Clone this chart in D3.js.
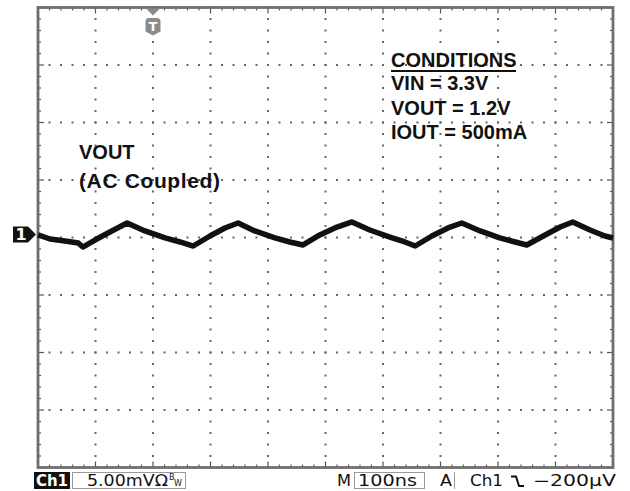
<!DOCTYPE html>
<html><head><meta charset="utf-8">
<script src="https://cdn.jsdelivr.net/npm/d3@7"></script>
<style>html,body{margin:0;padding:0;background:#fff;}svg{display:block;}</style>
</head><body>
<svg id="c" width="630" height="491"></svg>
<script>
// ---- data ----
const timeNs = [0,21,47,70,78,99,125,155,186,221,247,270,299,325,348,377,412,438,461,490,520,546,577,612,638,656,685,713,737,769,803,830,850,882,908,930,960,986,1000];
const rippleMv = [0.22,-0.13,-0.30,-0.48,-0.83,-0.22,0.48,1.26,0.57,-0.04,-0.39,-0.74,0.13,0.83,1.26,0.57,-0.04,-0.39,-0.65,0.22,0.91,1.35,0.65,0.04,-0.39,-0.74,0.13,0.83,1.26,0.57,-0.04,-0.39,-0.65,0.22,0.91,1.35,0.65,0.13,-0.04];
const conditionLines = ["VIN = 3.3V","VOUT = 1.2V","IOUT = 500mA"];
const traceLabel = ["VOUT","(AC Coupled)"];
const xDivs = 10, yDivs = 8;

// ---- layout ----
const L = 38, R = 613, T = 7.5, B = 467.5;
const svg = d3.select("#c");
const x = d3.scaleLinear().domain([0, 1000]).range([L, R]);
const y = d3.scaleLinear().domain([-20, 20]).range([B, T]);

const xMajor = d3.range(1, xDivs).map(i => i * 100);
const yMajor = d3.range(1, yDivs).map(i => -20 + i * 5);
const xMinor = d3.range(0, 1000.001, 20);
const yMinor = d3.range(-20, 20.001, 1);

const g = svg.append("g");
// dotted grid: dots at minor positions along major lines
xMajor.forEach(t => {
  yMinor.forEach(v => {
    g.append("rect").attr("x", x(t)-1).attr("y", y(v)-1).attr("width", 2).attr("height", 2).attr("fill", "#666");
  });
});
yMajor.forEach(v => {
  xMinor.forEach(t => {
    g.append("rect").attr("x", x(t)-1).attr("y", y(v)-1).attr("width", 2).attr("height", 2).attr("fill", "#666");
  });
});
// frame ticks
xMinor.forEach(t => {
  const maj = Math.abs(t/100 - Math.round(t/100)) < 1e-6;
  const len = maj ? 6 : 3;
  g.append("line").attr("x1", x(t)).attr("x2", x(t)).attr("y1", T).attr("y2", T+len).attr("stroke", "#555").attr("stroke-width", 1.2);
  g.append("line").attr("x1", x(t)).attr("x2", x(t)).attr("y1", B).attr("y2", B-len).attr("stroke", "#555").attr("stroke-width", 1.2);
});
yMinor.forEach(v => {
  const maj = Math.abs(v/5 - Math.round(v/5)) < 1e-6;
  const len = maj ? 6 : 3;
  g.append("line").attr("y1", y(v)).attr("y2", y(v)).attr("x1", L).attr("x2", L+len).attr("stroke", "#555").attr("stroke-width", 1.2);
  g.append("line").attr("y1", y(v)).attr("y2", y(v)).attr("x1", R).attr("x2", R-len).attr("stroke", "#555").attr("stroke-width", 1.2);
});
// frame
g.append("rect").attr("x", L).attr("y", T).attr("width", R-L).attr("height", B-T)
  .attr("fill", "none").attr("stroke", "#6e6e6e").attr("stroke-width", 2.8);

// trace
const line = d3.line().x((d,i) => x(timeNs[i])).y(d => y(d)).curve(d3.curveLinear);
svg.append("path").datum(rippleMv).attr("d", line)
  .attr("fill", "none").attr("stroke", "#111").attr("stroke-width", 5.5).attr("stroke-linejoin", "round");

// channel 1 marker
const my = y(rippleMv[0]) - 0.5;
svg.append("path").attr("d", `M13,${my-8}H28L36,${my}L28,${my+8}H13Z`).attr("fill", "#111");
svg.append("text").attr("x", 21).attr("y", my+6).attr("text-anchor", "middle")
  .attr("font-family", "DejaVu Sans").attr("font-weight", "bold").attr("font-size", 16).attr("fill", "#fff").text("1");

// trigger marker
const tx = x(200);
svg.append("path").attr("d", `M${tx-7},${T+1}H${tx+7}L${tx},${T+8}Z`).attr("fill", "#8a8a8a");
svg.append("path").attr("d", `M${tx-7.5},${T+14}Q${tx-7.5},${T+10.5} ${tx-4},${T+10.5}H${tx+4}Q${tx+7.5},${T+10.5} ${tx+7.5},${T+14}V${T+24}L${tx},${T+28}L${tx-7.5},${T+24}Z`).attr("fill", "#8a8a8a");
svg.append("text").attr("x", tx).attr("y", T+23.5).attr("text-anchor", "middle")
  .attr("font-family", "DejaVu Sans").attr("font-weight", "bold").attr("font-size", 13).attr("fill", "#fff").text("T");

// labels
const lab = svg.append("g").attr("font-family", "Liberation Sans, Arial, sans-serif").attr("font-weight", "bold").attr("font-size", 20).attr("fill", "#111");
lab.append("text").attr("x", 79).attr("y", 159).text(traceLabel[0]);
lab.append("text").attr("x", 79).attr("y", 188).attr("font-size", 21).attr("textLength", 141).attr("lengthAdjust", "spacing").text(traceLabel[1]);
lab.append("text").attr("x", 391).attr("y", 67).text("CONDITIONS");
lab.append("rect").attr("x", 391).attr("y", 70).attr("width", 125).attr("height", 2).attr("fill", "#111");
conditionLines.forEach((s, i) => lab.append("text").attr("x", 391).attr("y", 90 + i*24.6).text(s));

// status bar
const sb = svg.append("g").attr("font-family", "DejaVu Sans, sans-serif").attr("font-size", 15).attr("fill", "#111");
sb.append("rect").attr("x", 34).attr("y", 472).attr("width", 36).attr("height", 17).attr("fill", "#111");
sb.append("text").attr("x", 36).attr("y", 486).attr("fill", "#fff").attr("font-weight", "bold").attr("textLength", 32).text("Ch1");
sb.append("rect").attr("x", 72.5).attr("y", 472.5).attr("width", 113).attr("height", 16).attr("fill", "none").attr("stroke", "#999");
sb.append("text").attr("x", 87).attr("y", 486).attr("textLength", 81).attr("lengthAdjust", "spacingAndGlyphs").text("5.00mVΩ");
sb.append("text").attr("x", 169).attr("y", 480).attr("font-size", 8).text("B");
sb.append("text").attr("x", 174).attr("y", 486).attr("font-size", 8).text("W");
sb.append("text").attr("x", 337).attr("y", 486).attr("textLength", 14).attr("lengthAdjust", "spacingAndGlyphs").text("M");
sb.append("rect").attr("x", 354.5).attr("y", 472.5).attr("width", 70).attr("height", 16).attr("fill", "none").attr("stroke", "#999");
sb.append("text").attr("x", 358).attr("y", 486).attr("textLength", 59).attr("lengthAdjust", "spacingAndGlyphs").text("100ns");
sb.append("text").attr("x", 440).attr("y", 486).attr("textLength", 12).attr("lengthAdjust", "spacingAndGlyphs").text("A");
sb.append("line").attr("x1", 454.5).attr("x2", 454.5).attr("y1", 472).attr("y2", 489).attr("stroke", "#999");
sb.append("text").attr("x", 470).attr("y", 486).attr("textLength", 33).attr("lengthAdjust", "spacingAndGlyphs").text("Ch1");
sb.append("path").attr("d", "M511,476.5H516L519,486H524").attr("fill", "none").attr("stroke", "#111").attr("stroke-width", 2);
sb.append("text").attr("x", 533).attr("y", 486).attr("textLength", 83).attr("lengthAdjust", "spacingAndGlyphs").text("\u2212200\u00B5V");
</script>
</body></html>
